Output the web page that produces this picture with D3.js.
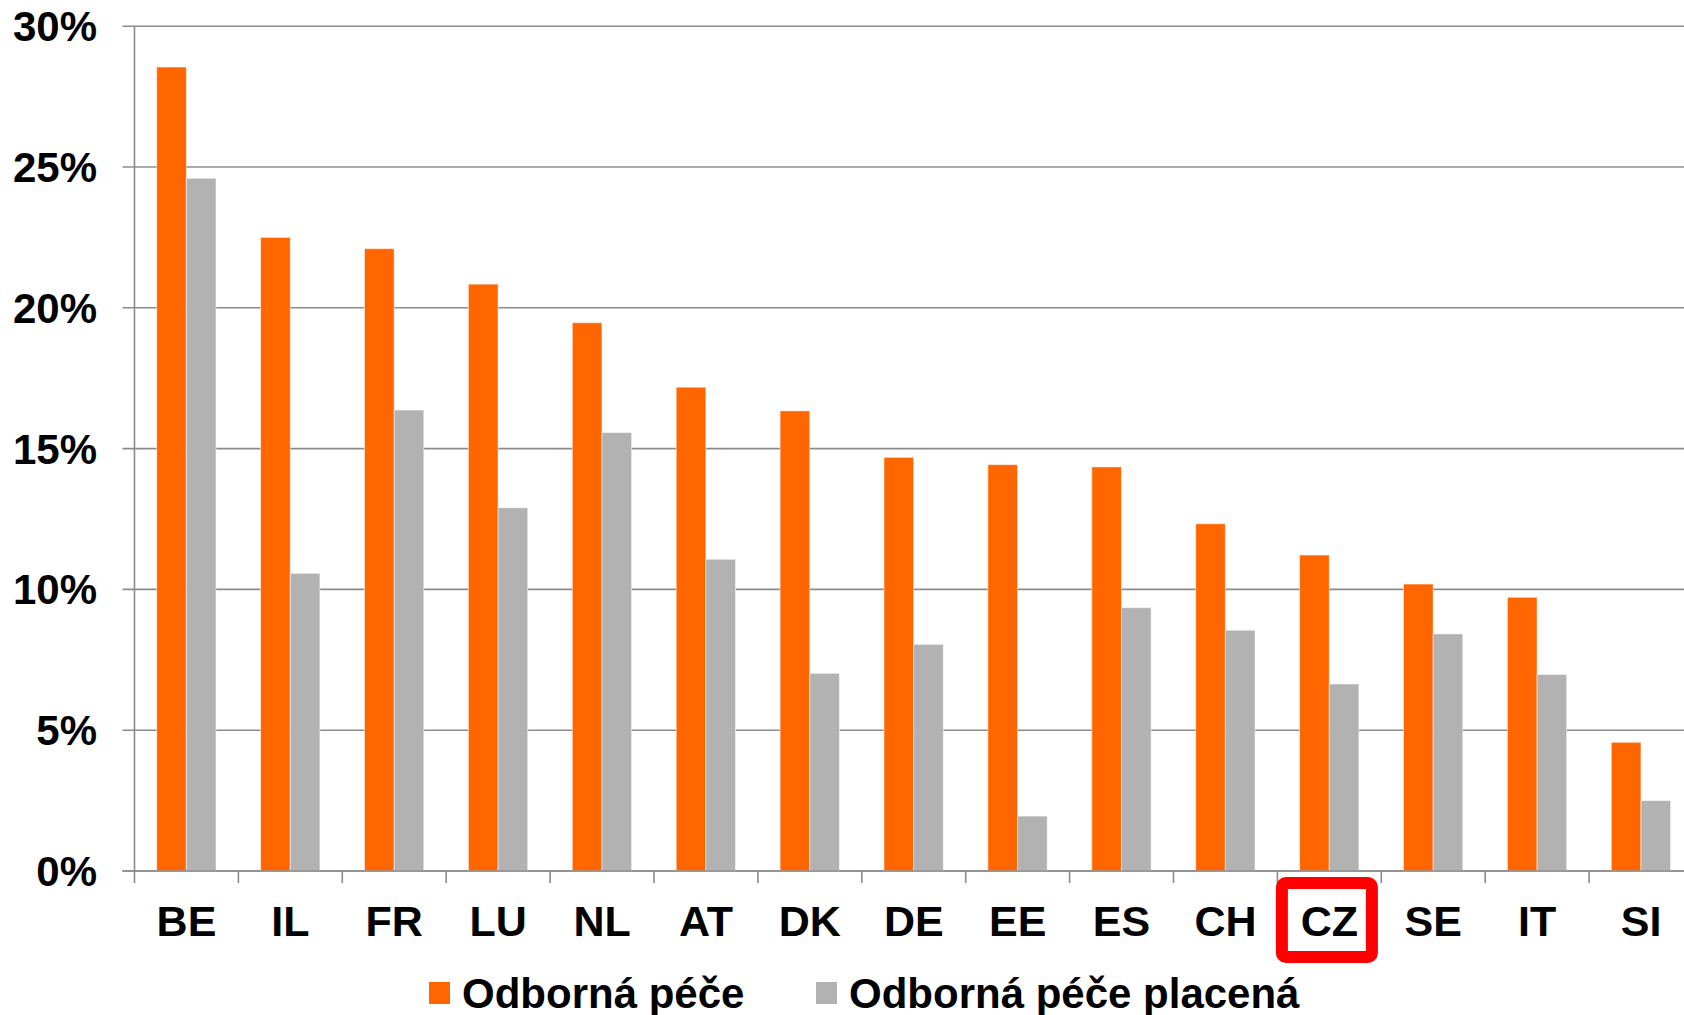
<!DOCTYPE html>
<html>
<head>
<meta charset="utf-8">
<script src="https://cdn.jsdelivr.net/npm/d3@7"></script>
<style>
  body { margin: 0; background: #fff; }
  text { font-family: "Liberation Sans", Arial, sans-serif; font-weight: bold; fill: #000; }
</style>
</head>
<body>
<div id="chart"></div>
<script>
var countries = ["BE", "IL", "FR", "LU", "NL", "AT", "DK", "DE", "EE", "ES", "CH", "CZ", "SE", "IT", "SI"];
var pece = [28.55, 22.5, 22.1, 20.84, 19.47, 17.18, 16.34, 14.69, 14.43, 14.35, 12.33, 11.22, 10.19, 9.72, 4.57];
var peceplacena = [24.6, 10.57, 16.37, 12.9, 15.57, 11.07, 7.02, 8.05, 1.95, 9.35, 8.55, 6.64, 8.42, 6.98, 2.5];
var seriesNames = ["Odborná péče", "Odborná péče placená"];
var colors = ["#ff6600", "#b2b2b2"];
var yTicks = [0, 5, 10, 15, 20, 25, 30];
var highlight = "CZ";

var width = 1684, height = 1015;
var margin = { left: 134.5, top: 26.2, bottom: 871 };

var svg = d3.select("#chart")
    .append("svg")
    .attr("width", width)
    .attr("height", height);

var x = d3.scaleBand()
    .domain(countries)
    .range([margin.left, margin.left + 15 * 103.9]);

var x1 = d3.scaleBand()
    .domain([0, 1])
    .range([22.2, 22.2 + 59.3]);

var y = d3.scaleLinear()
    .domain([0, 30])
    .range([margin.bottom, margin.top]);

// gridlines + y labels
var yAxis = svg.append("g");
yAxis.selectAll("line")
    .data(yTicks)
    .enter()
    .append("line")
    .attr("x1", margin.left - 12)
    .attr("x2", width)
    .attr("y1", y)
    .attr("y2", y)
    .attr("stroke", "#8c8c8c")
    .attr("stroke-width", 1.6);

yAxis.selectAll("text")
    .data(yTicks)
    .enter()
    .append("text")
    .attr("x", 97)
    .attr("y", function(d) { return y(d) + 15; })
    .attr("text-anchor", "end")
    .attr("font-size", 42)
    .text(function(d) { return d + "%"; });

// bars
var data = countries.map(function(c, i) { return { c: c, v: [pece[i], peceplacena[i]] }; });
var groups = svg.append("g").selectAll("g")
    .data(data)
    .enter()
    .append("g")
    .attr("transform", function(d) { return "translate(" + x(d.c) + ",0)"; });

groups.selectAll("rect")
    .data(function(d) { return d.v; })
    .enter()
    .append("rect")
    .attr("x", function(d, i) { return x1(i); })
    .attr("width", x1.bandwidth())
    .attr("y", function(d) { return y(d); })
    .attr("height", function(d) { return y(0) - y(d); })
    .attr("fill", function(d, i) { return colors[i]; })
    .attr("stroke", "#fff")
    .attr("stroke-opacity", 0.5)
    .attr("stroke-width", 1);

// axes lines
svg.append("line")
    .attr("x1", margin.left).attr("x2", margin.left)
    .attr("y1", margin.top).attr("y2", margin.bottom + 12)
    .attr("stroke", "#8c8c8c").attr("stroke-width", 1.6);

svg.append("line")
    .attr("x1", margin.left - 12).attr("x2", width)
    .attr("y1", margin.bottom).attr("y2", margin.bottom)
    .attr("stroke", "#8c8c8c").attr("stroke-width", 1.6);

svg.append("g").selectAll("line")
    .data(countries)
    .enter()
    .append("line")
    .attr("x1", function(d) { return x(d) + x.bandwidth(); })
    .attr("x2", function(d) { return x(d) + x.bandwidth(); })
    .attr("y1", margin.bottom)
    .attr("y2", margin.bottom + 12)
    .attr("stroke", "#8c8c8c").attr("stroke-width", 1.6);

// x labels
svg.append("g").selectAll("text")
    .data(countries)
    .enter()
    .append("text")
    .attr("x", function(d) { return x(d) + x.bandwidth() / 2; })
    .attr("y", 936)
    .attr("text-anchor", "middle")
    .attr("font-size", 43)
    .text(function(d) { return d; });

// highlight box round CZ
svg.append("rect")
    .attr("x", x(highlight) - 1.5 + 6)
    .attr("y", 883)
    .attr("width", 90)
    .attr("height", 74)
    .attr("rx", 4)
    .attr("fill", "none")
    .attr("stroke", "#ff0000")
    .attr("stroke-width", 12);

// legend
var legendX = [429, 816];
var legend = svg.append("g").selectAll("g")
    .data(seriesNames)
    .enter()
    .append("g")
    .attr("transform", function(d, i) { return "translate(" + legendX[i] + ",0)"; });

legend.append("rect")
    .attr("x", 0)
    .attr("y", 982)
    .attr("width", 21)
    .attr("height", 22)
    .attr("fill", function(d, i) { return colors[i]; });

legend.append("text")
    .attr("x", 33)
    .attr("y", 1008)
    .attr("font-size", 42)
    .text(function(d) { return d; });
</script>
</body>
</html>
